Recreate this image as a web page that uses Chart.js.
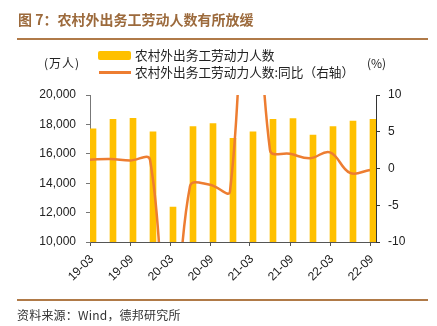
<!DOCTYPE html>
<html><head><meta charset="utf-8">
<script src="https://cdn.jsdelivr.net/npm/chart.js@4.4.1/dist/chart.umd.min.js"></script>
<style>
html,body{margin:0;padding:0;background:#fff;}
#wrap{position:relative;width:437px;height:326px;overflow:hidden;font-family:"Noto Sans CJK SC","Noto Sans",sans-serif;}
canvas{position:absolute;left:0;top:0;}
.t{position:absolute;white-space:nowrap;line-height:1;color:#222;}
.rule{position:absolute;left:17px;width:411px;height:2px;background:#b07a48;}
</style></head><body>
<div id="wrap">
<canvas id="c" width="437" height="326"></canvas>
<div class="t" id="title" style="left:18px;top:12px;font-size:14px;font-weight:bold;color:#9c6a3c;"></div>
<div class="rule" style="top:38px;"></div>
<div class="t" id="unitL" style="left:44px;top:57px;font-size:12px;letter-spacing:1px;"></div>
<div class="t" id="unitR" style="left:367px;top:57px;font-size:12px;"></div>
<div style="position:absolute;left:98px;top:51px;width:33px;height:9px;background:#FFC000;border-radius:2px;"></div>
<div class="t" id="lg1" style="left:135px;top:49px;font-size:12.7px;"></div>
<div style="position:absolute;left:99px;top:71px;width:32px;height:2.5px;background:#ED7D31;"></div>
<div class="t" id="lg2" style="left:135px;top:66px;font-size:12.7px;"></div>
<div class="rule" style="top:299px;"></div>
<div class="t" id="src" style="left:17px;top:309px;font-size:12px;letter-spacing:0.2px;color:#333;"></div>
</div>
<script>
const titleText = '图 7：农村外出务工劳动人数有所放缓';
const sourceText = '资料来源：Wind，德邦研究所';
const unitLeft = '(万人)';
const unitRight = '(%)';
const barLabel = '农村外出务工劳动力人数';
const lineLabel = '农村外出务工劳动力人数:同比（右轴）';

const quarters = ['19-03','19-06','19-09','19-12','20-03','20-06','20-09','20-12','21-03','21-06','21-09','21-12','22-03','22-06','22-09'];
const workers = [17700, 18350, 18415, 17500, 12380, 17850, 18050, 17050, 17500, 18350, 18390, 17280, 17850, 18230, 18350];
const yoy = [1.2, 1.3, 1.1, 1.2, -30.6, -2.4, -2.2, -3.1, 44.7, 2.5, 2.0, 1.4, 2.2, -0.6, -0.2];
const leftTicks = [10000, 12000, 14000, 16000, 18000, 20000];
const rightTicks = [-10, -5, 0, 5, 10];
const xTickIdx = [0, 2, 4, 6, 8, 10, 12, 14];

document.getElementById('title').textContent = titleText;
document.getElementById('src').textContent = sourceText;
document.getElementById('unitL').textContent = unitLeft;
document.getElementById('unitR').textContent = unitRight;
document.getElementById('lg1').textContent = barLabel;
document.getElementById('lg2').textContent = lineLabel;

const tickFont = {family: '"Liberation Sans", Arial, sans-serif', size: 12};
const axisColor = '#555';

new Chart(document.getElementById('c'), {
  data: {
    datasets: [
      {type: 'bar', label: '', data: quarters.map((q, i) => ({x: i, y: null})), yAxisID: 'y', order: 2, barThickness: 6},
      {type: 'bar', label: barLabel, data: workers.map((v, i) => ({x: i, y: v})), yAxisID: 'y', order: 2,
        backgroundColor: '#FFC000', barThickness: 6, borderWidth: 0},
      {type: 'line', label: lineLabel, data: yoy.map((v, i) => ({x: i, y: v})), yAxisID: 'y1', order: 0,
        borderColor: '#ED7D31', borderWidth: 2.5, pointRadius: 0, tension: 0.4, fill: false}
    ]
  },
  options: {
    responsive: false, animation: false,
    layout: {padding: {top: 95, left: 0, right: 0, bottom: 0}},
    plugins: {legend: {display: false}, tooltip: {enabled: false}},
    scales: {
      x: {
        type: 'linear', min: 0, max: 14.3, offset: false,
        afterBuildTicks: s => { s.ticks = xTickIdx.map(v => ({value: v})); },
        afterFit: s => { s.height = 84; },
        ticks: {callback: v => quarters[v], maxRotation: 45, minRotation: 45, autoSkip: false, font: tickFont, color: '#222', padding: 6, labelOffset: 2},
        grid: {offset: false, drawOnChartArea: false, drawTicks: true, tickLength: 4, color: axisColor},
        border: {display: true, color: axisColor}
      },
      y: {
        type: 'linear', position: 'left', min: 10000, max: 20000,
        afterBuildTicks: s => { s.ticks = leftTicks.map(v => ({value: v})); },
        afterFit: s => { s.width = 90; },
        ticks: {callback: v => v.toLocaleString('en-US'), font: tickFont, color: '#222', padding: 10},
        grid: {drawOnChartArea: false, drawTicks: true, tickLength: 4, color: '#777'},
        border: {display: true, color: '#777'}
      },
      y1: {
        type: 'linear', position: 'right', min: -10, max: 10,
        afterBuildTicks: s => { s.ticks = rightTicks.map(v => ({value: v})); },
        afterFit: s => { s.width = 61; },
        ticks: {font: tickFont, color: '#222', padding: 8},
        grid: {drawOnChartArea: false, drawTicks: true, tickLength: 4, color: '#333'},
        border: {display: true, color: '#333'}
      }
    }
  }
});
</script>
</body></html>
